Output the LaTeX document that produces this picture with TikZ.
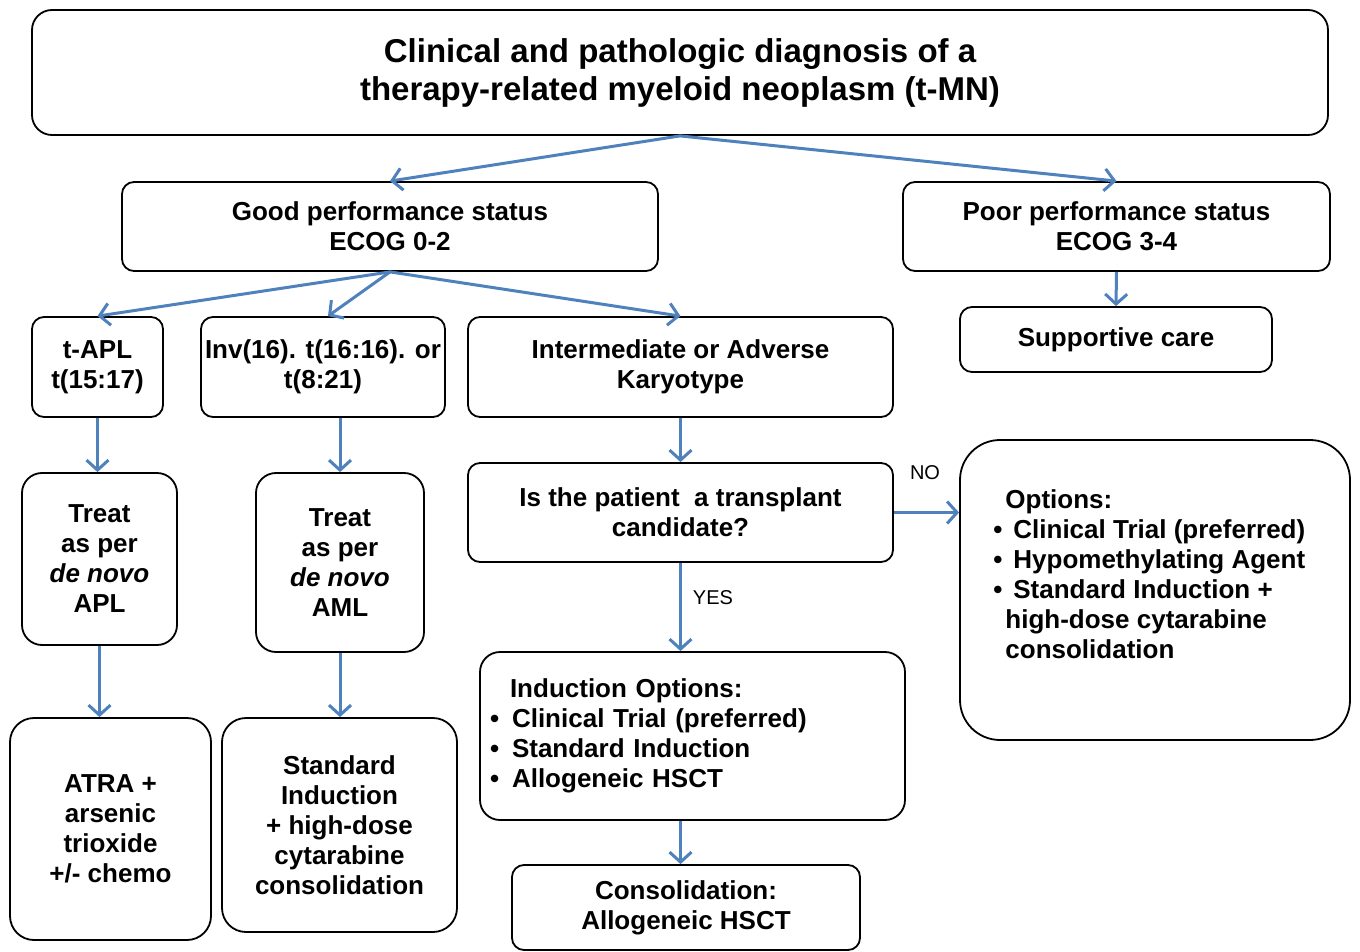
\documentclass[tikz,border=0pt]{standalone}
\usepackage{fontspec}
\setmainfont{Liberation Sans}
\usetikzlibrary{arrows.meta}
\definecolor{flowblue}{RGB}{79,129,189}
\newcommand{\itm}{\makebox[10pt][l]{\textbullet}}
\newcommand{\indbul}{\makebox[11pt][l]{\textbullet}}

\begin{document}
\begin{tikzpicture}[x=.5pt,y=-.5pt,
	box/.style={draw,line width=.9pt,rounded corners=6pt,align=center,inner sep=2pt,
		font=\fontsize{13}{15}\selectfont\bfseries},
	flow/.style={draw=flowblue,line width=1.5pt},
	answer/.style={font=\fontsize{10}{12}\selectfont,inner sep=0pt},
	>={Straight Barb[length=5pt,width=11pt]}]
	\useasboundingbox (0,0) rectangle (1360,952);
	
	\node[box,rounded corners=10pt,minimum width=648pt,minimum height=62.5pt,
		font=\fontsize{16.5}{19}\selectfont\bfseries] at (680,72.5) (title)
		{Clinical and pathologic diagnosis of a\\therapy-related myeloid neoplasm (t-MN)};
	
	\node[box,minimum width=268pt,minimum height=44.5pt] at (390,226.5) (good)
		{Good performance status\\ECOG 0-2};
	\node[box,minimum width=213.5pt,minimum height=44.5pt] at (1116.5,226.5) (poor)
		{Poor performance status\\ECOG 3-4};
	\node[box,minimum width=156pt,minimum height=32.5pt] at (1116,339.5) (supp)
		{Supportive care};
	
	\node[box,minimum width=65.5pt,minimum height=50pt] at (97.5,367) (tapl)
		{t-APL\\t(15:17)};
	\node[box,minimum width=122pt,minimum height=50pt] at (323,367) (inv)
		{Inv(16). t(16:16). or\\t(8:21)};
	\node[box,minimum width=212.5pt,minimum height=50pt] at (680.5,367) (inter)
		{Intermediate or Adverse\\Karyotype};
	
	\node[box,rounded corners=10pt,minimum width=77.5pt,minimum height=86pt] at (99.5,559) (treatapl)
		{Treat\\as per\\\textit{de novo}\\APL};
	\node[box,rounded corners=10pt,minimum width=84pt,minimum height=89.5pt] at (340,562.5) (treataml)
		{Treat\\as per\\\textit{de novo}\\AML};
	
	\node[box,rounded corners=12pt,minimum width=100.5pt,minimum height=111pt] at (110.5,829) (atra)
		{ATRA +\\arsenic\\trioxide\\+/- chemo};
	\node[box,rounded corners=12pt,minimum width=117.5pt,minimum height=107pt] at (339.5,825) (std)
		{Standard\\Induction\\+ high-dose\\cytarabine\\consolidation};
	
	\node[box,minimum width=212.5pt,minimum height=49.5pt] at (680.5,512.5) (transp)
		{Is the patient\ \ a transplant\\candidate?};
	\node[box,rounded corners=10pt,minimum width=212.5pt,minimum height=84pt,
		text width=202.5pt,inner xsep=5pt,align=left] at (692.5,736) (induct)
		{\hspace{10pt}Induction Options:\\
		\indbul Clinical Trial (preferred)\\
		\indbul Standard Induction\\
		\indbul Allogeneic HSCT};
	\node[box,minimum width=174pt,minimum height=42.5pt] at (686,907.5) (consol)
		{Consolidation:\\Allogeneic HSCT};
	
	\node[box,rounded corners=20pt,minimum width=195pt,minimum height=150pt] at (1155,590) (opt) {};
	\node[anchor=north west,inner sep=0pt,align=left,
		font=\fontsize{13}{15}\selectfont\bfseries] at (993,489) (optlist)
		{\hspace{6pt}Options:\\
		\itm Clinical Trial (preferred)\\
		\itm Hypomethylating Agent\\
		\itm Standard Induction +\\
		\hspace{6pt}high-dose cytarabine\\
		\hspace{6pt}consolidation};
	
	\draw[flow,->] (title.south) -- (good.north);
	\draw[flow,->] (title.south) -- (poor.north);
	\draw[flow,->] (poor.south) -- (supp.north);
	\draw[flow,->] (good.south) -- (tapl.north);
	\draw[flow,->] (good.south) -- ([xshift=2.5pt]inv.north);
	\draw[flow,->] (good.south) -- (inter.north);
	\draw[flow,->] (tapl.south) -- (tapl.south |- treatapl.north);
	\draw[flow,->] (treataml.north |- inv.south) -- (treataml.north);
	\draw[flow,->] (treatapl.south) -- (treatapl.south |- atra.north);
	\draw[flow,->] (treataml.south) -- (treataml.south |- std.north);
	\draw[flow,->] (inter.south) -- (transp.north);
	\draw[flow,->] (transp.south) -- (transp.south |- induct.north);
	\draw[flow,->] (transp.south |- induct.south) -- (transp.south |- consol.north);
	\draw[flow,->] (transp.east) -- (transp.east -| opt.west);
	
	\node[answer] at (713,598) (yes) {YES};
	\node[answer] at (925,473) (no) {NO};
\end{tikzpicture}
\end{document}
